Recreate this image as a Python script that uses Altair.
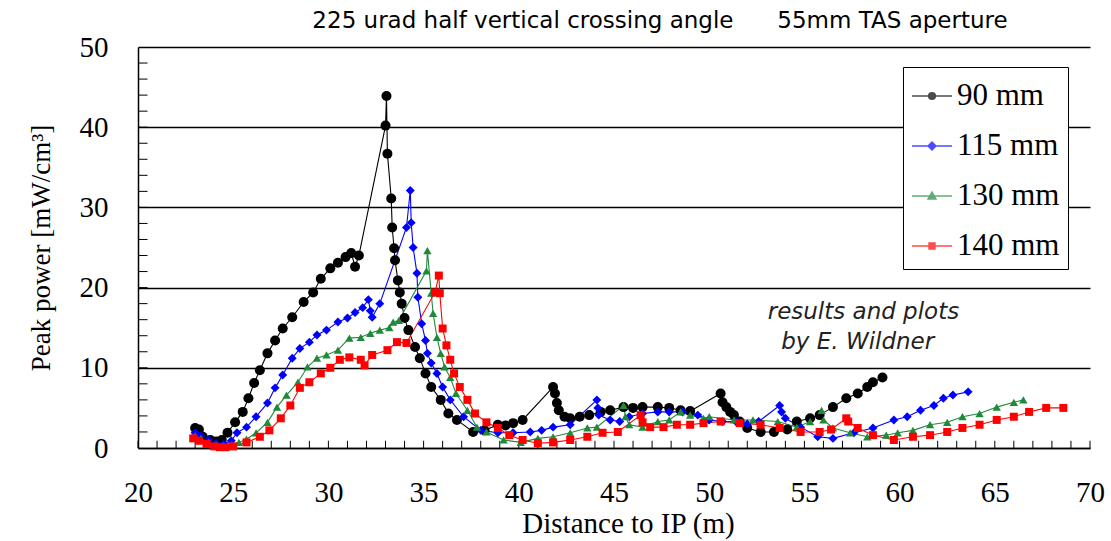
import altair as alt
import pandas as pd

series_names = ["90 mm", "115 mm", "130 mm", "140 mm"]
series_colors = ["#000000", "#0000ff", "#1f8a3a", "#ff0000"]
series_shapes = ["circle", "diamond", "triangle-up", "square"]
series_sizes = [100, 80, 70, 64]

x90 = [23.0, 23.2, 23.4, 23.8, 24.1, 24.4, 24.7, 25.1, 25.5, 25.8, 26.1, 26.4, 26.8, 27.2, 27.6, 28.1, 28.7,
       29.2, 29.6, 30.1, 30.5, 30.9, 31.2, 31.4, 31.6,
       33.0, 33.05, 33.1, 33.3, 33.35, 33.45, 33.5, 33.65, 33.75, 33.85, 34.0, 34.2, 34.55, 34.8, 35.1, 35.4,
       35.9, 36.3, 36.75, 37.6, 38.2, 38.9, 39.3, 39.7, 40.2,
       41.8, 41.9, 42.0, 42.1, 42.4, 42.7, 43.2, 43.7, 44.3, 44.8, 45.5, 46.0, 46.5, 47.3, 47.9, 48.5, 49.0,
       50.6, 50.7, 50.9, 51.1, 51.3, 51.6, 52.0, 52.7, 53.4, 54.1, 54.6, 55.3, 55.8, 56.5, 57.2, 57.8, 58.3,
       58.6, 59.1]
y90 = [2.5, 2.3, 1.4, 1.0, 0.8, 1.0, 1.9, 3.2, 4.5, 6.2, 8.1, 9.7, 11.8, 13.4, 14.9, 16.3, 18.2,
       19.4, 21.1, 22.4, 23.1, 23.8, 24.3, 22.6, 24.0,
       40.2, 43.9, 36.7, 31.1, 27.5, 24.9, 23.4, 20.9, 19.4, 18.0, 16.2, 14.7, 12.6, 11.2, 9.3, 7.6,
       6.0, 4.3, 3.5, 2.0, 2.2, 2.9, 2.8, 3.1, 3.5,
       7.6, 6.8, 5.6, 4.7, 3.9, 3.7, 3.9, 4.1, 4.5, 4.7, 5.1, 5.0, 5.1, 5.1, 5.0, 4.7, 4.6,
       6.8, 5.7, 5.1, 4.5, 4.1, 3.3, 2.5, 2.0, 2.0, 2.3, 3.3, 3.7, 4.1, 5.1, 6.2, 6.8, 7.6,
       8.2, 8.8]

x115 = [23.0, 23.3, 23.7, 24.1, 24.5, 24.9, 25.2, 25.7, 26.2, 26.8, 27.2, 27.6, 28.1, 28.5, 29.0, 29.4, 29.9,
        30.5, 31.0, 31.4, 31.8, 32.1, 32.2, 32.3, 32.7,
        34.1, 34.3, 34.35, 34.45, 34.65, 34.7, 34.9, 35.1, 35.2, 35.4, 35.7, 36.0, 36.4, 37.1, 38.0, 38.9,
        39.7, 40.6, 41.2, 41.8, 42.7,
        44.1, 44.15, 44.2, 44.8, 45.3, 45.8, 46.5, 47.3, 47.9, 48.6, 49.4, 50.0, 50.7, 51.4, 52.0, 52.6,
        53.7, 53.8, 54.0, 54.8, 55.7, 56.5, 57.6, 58.6, 59.7, 60.4, 61.1, 61.8, 62.3, 62.8, 63.6]
y115 = [1.9, 1.5, 1.0, 0.6, 0.5, 0.9, 1.9, 2.6, 3.9, 5.6, 7.5, 9.1, 11.2, 12.4, 13.2, 14.1, 14.7,
        15.7, 16.2, 16.9, 17.5, 18.5, 17.1, 16.3, 18.0,
        27.5, 32.1, 28.1, 25.0, 21.8, 18.8, 15.5, 13.4, 11.8, 10.6, 9.3, 7.6, 6.0, 3.9, 2.2, 1.9,
        1.9, 2.0, 2.2, 2.6, 2.9,
        6.0, 5.0, 4.1, 3.5, 3.3, 3.9, 4.3, 4.5, 4.5, 4.5, 4.1, 3.5, 3.3, 3.3, 3.0, 3.3,
        5.3, 4.5, 3.7, 2.6, 1.4, 1.2, 1.9, 2.5, 3.5, 3.9, 4.7, 5.3, 6.2, 6.6, 7.0]

x130 = [23.0, 23.3, 23.7, 24.1, 24.5, 24.9, 25.3, 25.7, 26.2, 26.8, 27.3, 27.8, 28.4, 28.9, 29.4, 29.9, 30.5,
        31.1, 31.7, 32.2, 32.7, 33.2, 33.4, 33.7,
        35.15, 35.2, 35.4, 35.5, 35.7, 35.9, 36.1, 36.4, 36.7, 37.3, 37.8, 38.3, 39.2, 40.1, 41.0, 41.8,
        42.7, 43.6, 44.1,
        45.5, 45.6, 45.8, 46.5, 47.3, 47.9, 48.5, 49.0, 49.7, 50.0, 51.3, 52.3, 53.6, 54.6, 55.3,
        55.9, 56.0, 56.5, 57.4, 58.3, 59.3, 59.9, 60.7, 61.6, 62.5, 63.3, 64.2, 65.1, 66.0, 66.5]
y130 = [1.5, 1.2, 0.7, 0.4, 0.3, 0.4, 0.7, 1.1, 1.9, 3.2, 5.1, 6.6, 8.2, 10.1, 11.2, 11.6, 12.2,
        13.7, 13.8, 14.3, 14.7, 15.0, 15.7, 15.9,
        22.1, 24.6, 19.3, 16.8, 13.8, 11.8, 10.1, 8.8, 6.8, 4.7, 2.6, 2.0, 1.0, 0.7, 1.2, 1.4,
        1.9, 2.5, 2.6,
        5.3, 3.9, 2.9, 2.6, 3.3, 3.5, 4.5, 4.1, 3.7, 3.9, 3.5, 3.5, 3.3, 2.6, 3.3,
        4.7, 3.5, 2.5, 1.9, 1.4, 1.6, 1.9, 2.2, 2.9, 3.2, 3.9, 4.3, 5.1, 5.7, 6.0]

x140 = [22.9, 23.2, 23.6, 24.0, 24.3, 24.6, 25.0, 25.7, 26.4, 26.9, 27.5, 28.0, 28.5, 29.0, 29.6, 30.1, 30.6,
        31.1, 31.7, 31.9, 32.3, 33.1, 33.6, 34.1,
        35.6, 35.8, 35.85, 36.0, 36.2, 36.4, 36.6, 36.9, 37.3, 37.7, 38.3, 38.9, 39.5, 40.2, 41.0, 41.8,
        42.7, 43.6, 44.4, 45.2,
        46.4, 46.5, 46.9, 47.6, 48.3, 49.0, 49.7, 50.6, 51.6, 52.7, 53.7, 54.8, 55.8, 56.4,
        57.2, 57.3, 57.8, 58.6, 59.7, 60.7, 61.6, 62.5, 63.3, 64.2, 65.1, 66.0, 66.8, 67.7, 68.6]
y140 = [1.2, 0.9, 0.5, 0.2, 0.1, 0.1, 0.2, 0.7, 1.4, 2.2, 3.7, 5.3, 7.5, 8.2, 9.3, 10.0, 11.0,
        11.3, 11.0, 10.3, 11.6, 12.2, 13.2, 13.1,
        19.4, 21.5, 19.3, 14.9, 12.8, 11.0, 9.3, 7.6, 6.0, 4.3, 3.2, 2.5, 1.6, 1.0, 0.6, 0.7,
        1.0, 1.4, 1.9, 2.0,
        4.1, 3.2, 2.6, 2.6, 2.9, 2.9, 3.1, 3.3, 3.1, 2.9, 2.5, 2.0, 2.0, 2.3,
        3.7, 3.3, 2.5, 1.6, 1.0, 1.4, 1.6, 2.0, 2.5, 2.9, 3.5, 3.9, 4.5, 5.0, 5.0]

x_tick_labels = [20, 25, 30, 35, 40, 45, 50, 55, 60, 65, 70]
y_tick_labels = [0, 10, 20, 30, 40, 50]
x_minor = list(range(20, 71))
y_minor = list(range(2, 50, 2))

ann_text = ["results and plots", "by E. Wildner"]
ann_x = [58.1, 57.8]
ann_y = [16.9, 13.2]

# legend symbols: a line through a marker; markers drawn as nested outlines so strokes fill them
legend_paths = [
    "M-1,0H1"
    "M-0.17,0A0.17,0.17,0,1,1,0.17,0A0.17,0.17,0,1,1,-0.17,0Z"
    "M-0.11,0A0.11,0.11,0,1,1,0.11,0A0.11,0.11,0,1,1,-0.11,0Z"
    "M-0.05,0A0.05,0.05,0,1,1,0.05,0A0.05,0.05,0,1,1,-0.05,0Z",
    "M-1,0H1"
    "M0,-0.2L0.2,0L0,0.2L-0.2,0Z"
    "M0,-0.13L0.13,0L0,0.13L-0.13,0Z"
    "M0,-0.06L0.06,0L0,0.06L-0.06,0Z",
    "M-1,0H1"
    "M0,-0.2L0.2,0.15L-0.2,0.15Z"
    "M0,-0.11L0.1,0.1L-0.1,0.1Z"
    "M0,0L0.03,0.08L-0.03,0.08Z",
    "M-1,0H1"
    "M-0.15,-0.15H0.15V0.15H-0.15Z"
    "M-0.09,-0.09H0.09V0.09H-0.09Z"
    "M-0.03,-0.03H0.03V0.03H-0.03Z",
]

rows = []
for name, xs, ys in zip(series_names, [x90, x115, x130, x140], [y90, y115, y130, y140]):
    for i, (a, b) in enumerate(zip(xs, ys)):
        rows.append({"series": name, "x": a, "y": b, "i": i})
df = pd.DataFrame(rows)

xscale = alt.Scale(domain=[20, 70], nice=False, zero=False)
yscale = alt.Scale(domain=[0, 50], nice=False)
color_scale = alt.Scale(domain=series_names, range=series_colors)

x_axis = alt.Axis(values=x_tick_labels, ticks=False, grid=False, labelFont="Liberation Serif",
                  labelFontSize=29, labelColor="black", labelPadding=30, labelFlush=False,
                  domainColor="black", domainWidth=1.5,
                  title="Distance to IP (m)", titleFont="Liberation Serif", titleFontSize=29,
                  titleFontWeight="normal", titleColor="black", titlePadding=2, titleX=490)
y_axis = alt.Axis(values=y_tick_labels, ticks=False, grid=True, gridColor="black", gridWidth=1.5,
                  labelFont="Liberation Serif", labelFontSize=29, labelColor="black", labelPadding=30,
                  domainColor="black", domainWidth=1.5, title="Peak power [mW/cm³]",
                  titleFont="Liberation Serif", titleFontSize=27, titleFontWeight="normal", titleColor="black",
                  titlePadding=24)

base = alt.Chart(df)

lines = base.mark_line(strokeWidth=1.1).encode(
    x=alt.X("x:Q", scale=xscale, axis=x_axis),
    y=alt.Y("y:Q", scale=yscale, axis=y_axis),
    color=alt.Color("series:N", scale=color_scale, legend=None),
    order="i:Q",
    detail="series:N",
)

point_layers = []
for name, col, shp, sz in zip(series_names, series_colors, series_shapes, series_sizes):
    point_layers.append(
        base.transform_filter(alt.datum.series == name).mark_point(
            filled=True, opacity=1, shape=shp, size=sz, color=col
        ).encode(x=alt.X("x:Q", scale=xscale), y=alt.Y("y:Q", scale=yscale))
    )

xt = pd.DataFrame({"x": x_minor, "y0": [0] * len(x_minor), "y1": [0.9] * len(x_minor)})
x_ticks = alt.Chart(xt).mark_rule(color="black", strokeWidth=1).encode(
    x=alt.X("x:Q", scale=xscale), y=alt.Y("y0:Q", scale=yscale), y2="y1:Q")

yt = pd.DataFrame({"y": y_minor, "x0": [20] * len(y_minor), "x1": [20.5] * len(y_minor)})
y_ticks = alt.Chart(yt).mark_rule(color="black", strokeWidth=1).encode(
    y=alt.Y("y:Q", scale=yscale), x=alt.X("x0:Q", scale=xscale), x2="x1:Q")

ann = alt.Chart(pd.DataFrame({"t": ann_text, "x": ann_x, "y": ann_y})).mark_text(
    font="DejaVu Sans", fontSize=23, fontStyle="italic", color="#222222", align="center",
    baseline="middle").encode(x=alt.X("x:Q", scale=xscale), y=alt.Y("y:Q", scale=yscale), text="t:N")

leg_df = pd.DataFrame({"series": series_names, "x": [30] * 4, "y": [30] * 4})
legend_spec = alt.Legend(title=None, orient="none", legendX=765, legendY=20, labelFont="Liberation Serif",
                         labelFontSize=31, labelColor="black", symbolSize=1600, symbolStrokeWidth=1.4,
                         labelOffset=4, rowPadding=14, padding=8, strokeColor="black", fillColor="white")
leg_layer = alt.Chart(leg_df).mark_point(filled=False, strokeWidth=1.4).encode(
    x=alt.X("x:Q", scale=xscale),
    y=alt.Y("y:Q", scale=yscale),
    stroke=alt.Stroke("series:N", scale=alt.Scale(domain=series_names, range=series_colors), legend=legend_spec),
    shape=alt.Shape("series:N", scale=alt.Scale(domain=series_names, range=legend_paths), legend=legend_spec),
).transform_filter("false")

title = alt.Title("225 urad half vertical crossing angle" + "\u00a0" * 6 + "55mm TAS aperture",
                  font="DejaVu Sans", fontSize=23, fontWeight="normal", color="black", anchor="middle",
                  dx=46, offset=0)

chart = alt.layer(y_ticks, x_ticks, lines, *point_layers, ann, leg_layer).resolve_scale(
    stroke="independent", shape="independent"
).properties(
    width=952, height=401, title=title,
    autosize=alt.AutoSizeParams(type="none"),
    padding={"left": 138, "top": 47, "right": 21, "bottom": 93},
    background="white",
).configure_view(strokeWidth=0)

chart.save("out.html", embed_options={"renderer": "svg", "actions": False})
